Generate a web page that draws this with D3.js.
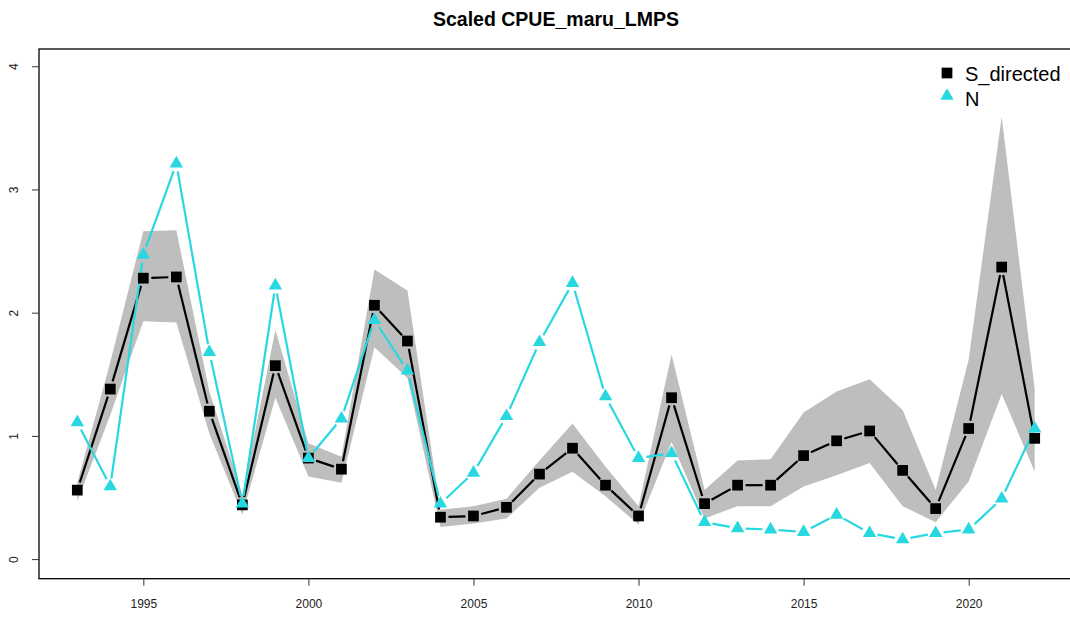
<!DOCTYPE html>
<html>
<head>
<meta charset="utf-8">
<script src="https://cdn.jsdelivr.net/npm/d3@7"></script>
<style>
    body { margin: 0; background: #fff; }
    svg { display: block; font-family: "Liberation Sans", Arial, sans-serif; }
</style>
</head>
<body>
<div id="chart"></div>
<script>
const years = [1993, 1994, 1995, 1996, 1997, 1998, 1999, 2000, 2001, 2002,
    2003, 2004, 2005, 2006, 2007, 2008, 2009, 2010, 2011, 2012,
    2013, 2014, 2015, 2016, 2017, 2018, 2019, 2020, 2021, 2022];

const sDirected = [0.56, 1.38, 2.28, 2.29, 1.20, 0.44, 1.57, 0.82, 0.73, 2.06,
    1.77, 0.34, 0.35, 0.42, 0.69, 0.90, 0.60, 0.35, 1.31, 0.45,
    0.60, 0.60, 0.84, 0.96, 1.04, 0.72, 0.41, 1.06, 2.37, 0.98];

const sUpper = [0.62, 1.60, 2.66, 2.67, 1.36, 0.52, 1.86, 0.94, 0.83, 2.35,
    2.18, 0.40, 0.43, 0.49, 0.80, 1.10, 0.75, 0.43, 1.66, 0.56,
    0.80, 0.81, 1.19, 1.36, 1.46, 1.21, 0.56, 1.62, 3.59, 1.38];

const sLower = [0.47, 1.17, 1.93, 1.92, 1.02, 0.36, 1.31, 0.67, 0.62, 1.72,
    1.47, 0.26, 0.29, 0.33, 0.58, 0.71, 0.51, 0.28, 0.95, 0.33,
    0.43, 0.43, 0.59, 0.68, 0.78, 0.43, 0.30, 0.63, 1.34, 0.71];

const nValues = [1.11, 0.59, 2.47, 3.21, 1.68, 0.45, 2.22, 0.82, 1.14, 1.94,
    1.53, 0.45, 0.70, 1.16, 1.76, 2.24, 1.32, 0.82, 0.86, 0.30,
    0.25, 0.24, 0.22, 0.36, 0.21, 0.16, 0.21, 0.24, 0.49, 1.06];

const xTicks = [1995, 2000, 2005, 2010, 2015, 2020];
const yTicks = [0, 1, 2, 3, 4];

const chartTitle = "Scaled CPUE_maru_LMPS";
const legendLabels = ["S_directed", "N"];

const width = 1070;
const height = 619;
const cyan = "#28d8e0";
const bandGrey = "#bebebe";

// plot region (R style box, right edge runs off the picture)
const plot = { left: 39, right: 1073, top: 49, bottom: 578.7 };

const x = d3.scaleLinear()
    .domain([1991.84, 2023.16])
    .range([plot.left, plot.right]);

const y = d3.scaleLinear()
    .domain([-0.159, 4.14])
    .range([plot.bottom, plot.top]);

const svg = d3.select("#chart")
    .append("svg")
    .attr("width", width)
    .attr("height", height)
    .attr("viewBox", `0 0 ${width} ${height}`);

// Title
svg.append("text")
    .attr("x", (plot.left + plot.right) / 2)
    .attr("y", 26)
    .attr("text-anchor", "middle")
    .attr("font-size", 19.5)
    .attr("font-weight", "bold")
    .attr("fill", "#000")
    .text(chartTitle);

// Confidence band
const band = d3.area()
    .x((d, i) => x(years[i]))
    .y0((d, i) => y(sLower[i]))
    .y1((d, i) => y(sUpper[i]));

svg.append("path")
    .datum(years)
    .attr("d", band)
    .attr("fill", bandGrey);

// type = "b" style: segments with gaps around points
function drawSegments(values, color, gap) {
    const pts = years.map((yr, i) => [x(yr), y(values[i])]);
    for (let i = 0; i < pts.length - 1; i++) {
        const [x1, y1] = pts[i];
        const [x2, y2] = pts[i + 1];
        const len = Math.hypot(x2 - x1, y2 - y1);
        if (len <= 2 * gap) continue;
        const ux = (x2 - x1) / len, uy = (y2 - y1) / len;
        svg.append("line")
            .attr("x1", x1 + ux * gap)
            .attr("y1", y1 + uy * gap)
            .attr("x2", x2 - ux * gap)
            .attr("y2", y2 - uy * gap)
            .attr("stroke", color)
            .attr("stroke-width", 2.2);
    }
}

drawSegments(sDirected, "#000", 8);
drawSegments(nValues, cyan, 8);

// Points
const square = d3.symbol().type(d3.symbolSquare).size(115);
const triangle = d3.symbol().type(d3.symbolTriangle).size(78);

svg.selectAll(".sq")
    .data(sDirected)
    .enter()
    .append("path")
    .attr("class", "sq")
    .attr("d", square)
    .attr("transform", (d, i) => `translate(${x(years[i])},${y(d)})`)
    .attr("fill", "#000");

svg.selectAll(".tri")
    .data(nValues)
    .enter()
    .append("path")
    .attr("class", "tri")
    .attr("d", triangle)
    .attr("transform", (d, i) => `translate(${x(years[i])},${y(d)})`)
    .attr("fill", cyan);

// Box
svg.append("rect")
    .attr("x", plot.left)
    .attr("y", plot.top)
    .attr("width", plot.right - plot.left)
    .attr("height", plot.bottom - plot.top)
    .attr("fill", "none")
    .attr("stroke", "#000")
    .attr("stroke-width", 1.3);

// X axis
const xAxis = svg.append("g")
    .attr("transform", `translate(0,${plot.bottom})`)
    .call(d3.axisBottom(x).tickValues(xTicks).tickSize(7).tickPadding(14).tickFormat(d3.format("d")));
xAxis.select(".domain").remove();
xAxis.selectAll("line").attr("stroke", "#333");
xAxis.selectAll("text")
    .attr("font-size", 12)
    .attr("font-family", "Liberation Sans, Arial, sans-serif")
    .attr("fill", "#222");

// Y axis
const yAxis = svg.append("g")
    .attr("transform", `translate(${plot.left},0)`)
    .call(d3.axisLeft(y).tickValues(yTicks).tickSize(7).tickFormat(d3.format("d")));
yAxis.select(".domain").remove();
yAxis.selectAll("line").attr("stroke", "#333");
yAxis.selectAll("text").remove();
yAxis.selectAll(".tick")
    .append("text")
    .attr("transform", "translate(-25,0) rotate(-90)")
    .attr("text-anchor", "middle")
    .attr("dy", "0.35em")
    .attr("font-size", 12)
    .attr("font-family", "Liberation Sans, Arial, sans-serif")
    .attr("fill", "#222")
    .text(d => d);

// Legend
const legendX = 947;
const legend = svg.append("g");
legend.append("path")
    .attr("d", square)
    .attr("transform", `translate(${legendX},73)`)
    .attr("fill", "#000");
legend.append("path")
    .attr("d", triangle)
    .attr("transform", `translate(${legendX},96)`)
    .attr("fill", cyan);
legend.selectAll(".legend-label")
    .data(legendLabels)
    .enter()
    .append("text")
    .attr("class", "legend-label")
    .attr("x", 965)
    .attr("y", (d, i) => 81 + i * 25)
    .attr("font-size", 20)
    .attr("fill", "#000")
    .text(d => d);
</script>
</body>
</html>
